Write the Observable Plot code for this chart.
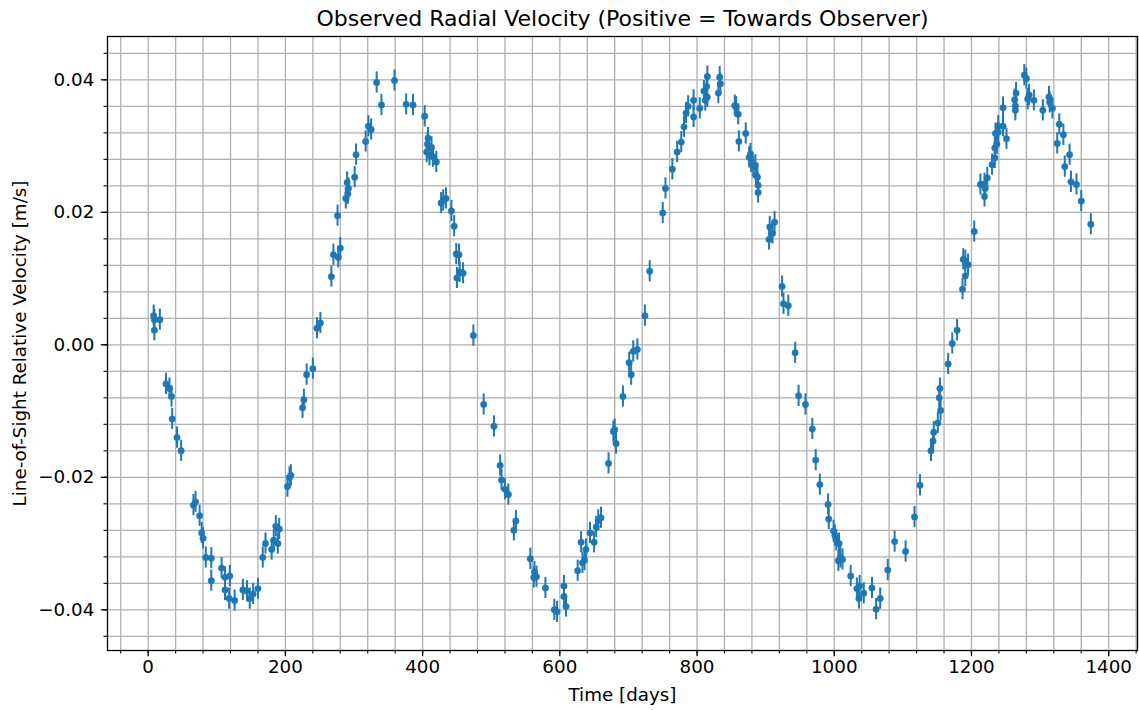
<!DOCTYPE html>
<html><head><meta charset="utf-8">
<script src="https://cdn.jsdelivr.net/npm/d3@7"></script>
<script src="https://cdn.jsdelivr.net/npm/@observablehq/plot@0.6"></script>
<style>body{margin:0;background:#fff} svg{display:block}</style>
</head><body><div id="chart"></div>
<script>
const titleText = "Observed Radial Velocity (Positive = Towards Observer)";
const xLabel = "Time [days]";
const yLabel = "Line-of-Sight Relative Velocity [m/s]";

const days = [
  8,9,9,17,26,31,34,35,42,48,66,69,75,78,80,84,92,92,107,112,119,112,118,126,138,144,148,153,160,167,
  171,180,183,186,189,191,203,206,208,225,227,231,240,246,251,267,270,277,280,276,288,291,292,290,301,303,317,321,325,333,
  340,359,376,386,403,408,407,413,406,410,415,420,427,430,434,442,446,449,453,450,454,459,474,489,504,513,515,520,525,536,
  533,557,563,562,566,579,592,596,606,606,609,626,631,633,636,638,644,650,653,656,660,671,678,680,682,692,701,704,707,713,
  724,731,750,754,764,771,777,781,784,787,795,795,804,810,812,814,815,815,831,833,834,855,857,860,861,871,876,878,879,882,
  885,886,888,889,889,906,905,910,913,924,926,933,943,948,958,968,973,979,991,992,999,1001,1003,1007,1006,1009,1012,1024,1033,1037,
  1036,1043,1055,1061,1067,1078,1088,1104,1117,1125,1141,1144,1145,1151,1155,1154,1153,1166,1172,1179,1187,1191,1188,1191,1195,1204,1213,1219,1220,1219,
  1223,1230,1234,1234,1237,1235,1239,1239,1246,1246,1251,1263,1265,1264,1264,1277,1280,1282,1284,1291,1304,1313,1314,1318,1328,1334,1325,1343,1336,1345,
  1353,1360,1374
];
const rv = [
  0.0044,0.0038,0.0022,0.0038,-0.0059,-0.0066,-0.0078,-0.0112,-0.0140,-0.0160,-0.0242,-0.0237,-0.0258,-0.0284,-0.0292,-0.0321,-0.0322,-0.0356,-0.0337,-0.0351,-0.0349,-0.0370,-0.0383,-0.0386,-0.0370,-0.0372,-0.0383,-0.0376,-0.0368,-0.0321,
  -0.0300,-0.0309,-0.0295,-0.0274,-0.0300,-0.0278,-0.0214,-0.0200,-0.0197,-0.0095,-0.0083,-0.0045,-0.0036,0.0025,0.0033,0.0103,0.0136,0.0132,0.0146,0.0195,0.0221,0.0228,0.0236,0.0245,0.0253,0.0287,0.0307,0.0330,0.0325,0.0396,
  0.0362,0.0399,0.0363,0.0362,0.0345,0.0312,0.0303,0.0298,0.0291,0.0286,0.0284,0.0276,0.0214,0.0218,0.0221,0.0202,0.0179,0.0137,0.0136,0.0101,0.0110,0.0108,0.0014,-0.0090,-0.0123,-0.0182,-0.0204,-0.0218,-0.0226,-0.0266,
  -0.0280,-0.0323,-0.0343,-0.0351,-0.0350,-0.0367,-0.0400,-0.0403,-0.0364,-0.0380,-0.0395,-0.0341,-0.0298,-0.0329,-0.0325,-0.0309,-0.0284,-0.0298,-0.0275,-0.0265,-0.0261,-0.0179,-0.0131,-0.0128,-0.0149,-0.0078,-0.0027,-0.0045,-0.0010,-0.0007,
  0.0044,0.0111,0.0199,0.0236,0.0265,0.0291,0.0306,0.0329,0.0350,0.0360,0.0369,0.0344,0.0357,0.0383,0.0369,0.0390,0.0405,0.0374,0.0380,0.0404,0.0394,0.0361,0.0359,0.0348,0.0307,0.0319,0.0283,0.0288,0.0276,0.0268,
  0.0271,0.0256,0.0253,0.0241,0.0230,0.0178,0.0159,0.0168,0.0185,0.0088,0.0062,0.0059,-0.0012,-0.0077,-0.0090,-0.0127,-0.0174,-0.0211,-0.0241,-0.0263,-0.0281,-0.0288,-0.0295,-0.0300,-0.0326,-0.0321,-0.0324,-0.0349,-0.0368,-0.0364,
  -0.0383,-0.0375,-0.0367,-0.0399,-0.0383,-0.0340,-0.0297,-0.0312,-0.0260,-0.0212,-0.0160,-0.0145,-0.0132,-0.0118,-0.0099,-0.0066,-0.0080,-0.0029,0.0002,0.0022,0.0084,0.0104,0.0129,0.0127,0.0121,0.0171,0.0242,0.0243,0.0236,0.0224,
  0.0252,0.0272,0.0282,0.0297,0.0303,0.0319,0.0321,0.0330,0.0330,0.0358,0.0311,0.0370,0.0380,0.0361,0.0354,0.0407,0.0402,0.0371,0.0377,0.0369,0.0354,0.0374,0.0366,0.0357,0.0333,0.0317,0.0304,0.0287,0.0269,0.0246,
  0.0242,0.0217,0.0182
];
const rvErr = 0.0016;

const xMajorTicks = [0, 200, 400, 600, 800, 1000, 1200, 1400];
const xTickLabels = ["0", "200", "400", "600", "800", "1000", "1200", "1400"];
const xMinorTicks = d3.range(-40, 1441, 40);
const yMajorTicks = [-0.04, -0.02, 0, 0.02, 0.04];
const yTickLabels = ["\u22120.04", "\u22120.02", "0.00", "0.02", "0.04"];
const yMinorTicks = d3.range(-11, 12).map(i => i * 0.004);

const data = days.map((d, i) => ({day: d, v: rv[i]}));
const blue = "#1f77b4";
const gridColor = "#b0b0b0";

const chart = Plot.plot({
  width: 1139,
  height: 710,
  marginLeft: 107,
  marginRight: 2,
  marginTop: 36,
  marginBottom: 60,
  style: {fontFamily: "DejaVu Sans", fontSize: "18.3px", background: "white", color: "black"},
  x: {domain: [-59.3, 1442], label: null},
  y: {domain: [-0.04614, 0.04654], label: null},
  marks: [
    Plot.ruleX(xMinorTicks, {stroke: gridColor, strokeWidth: 1.3}),
    Plot.ruleY(yMinorTicks, {stroke: gridColor, strokeWidth: 1.3}),
    Plot.ruleX(data, {x: "day", y1: d => d.v - rvErr, y2: d => d.v + rvErr, stroke: blue, strokeWidth: 2}),
    Plot.dot(data, {x: "day", y: "v", r: 3.2, fill: blue, stroke: blue, strokeWidth: 0.5}),
    Plot.frame({stroke: "black", strokeWidth: 1.3}),
    Plot.axisX(xMinorTicks, {tickSize: 3.5, tickFormat: () => "", label: null, strokeWidth: 1.1}),
    Plot.axisX(xMajorTicks, {tickSize: 6.2, tickPadding: 3, tickFormat: d => xTickLabels[xMajorTicks.indexOf(d)], label: null, fontSize: 18.3, strokeWidth: 1.3}),
    Plot.axisY(yMinorTicks, {tickSize: 3.5, tickFormat: () => "", label: null, strokeWidth: 1.1}),
    Plot.axisY(yMajorTicks, {tickSize: 6.2, tickPadding: 7, tickFormat: d => yTickLabels[yMajorTicks.indexOf(d)], label: null, fontSize: 18.3, strokeWidth: 1.3}),
    Plot.text([titleText], {frameAnchor: "top", lineAnchor: "middle", dy: -18, fontSize: 22})
    ,Plot.text([xLabel], {frameAnchor: "bottom", lineAnchor: "middle", dy: 45, fontSize: 18.3}),
    Plot.text([yLabel], {frameAnchor: "left", textAnchor: "middle", lineAnchor: "middle", dx: -87, rotate: -90, fontSize: 18.3})
  ]
});
document.getElementById("chart").appendChild(chart);
</script>
</body></html>
